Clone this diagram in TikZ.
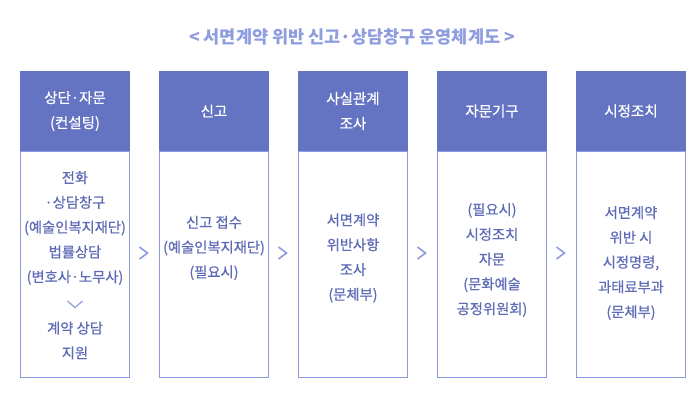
\documentclass[tikz,border=0pt]{standalone}
\usepackage{fontspec}
\setmainfont{Noto Sans CJK KR}
\newfontfamily\medfont[FakeBold=0.6]{Noto Sans CJK KR}
\definecolor{headblue}{HTML}{6474C2}
\definecolor{lineblue}{HTML}{8C9ADF}
\definecolor{textblue}{HTML}{5E6BB6}
\definecolor{titleblue}{HTML}{8E9CE0}
\tikzset{
	head/.style={fill=headblue, draw=none, minimum width=110pt, minimum height=80pt, text=white, align=center, font=\medfont\fontsize{14.5}{25}\selectfont},
	body/.style={draw=lineblue, line width=1pt, fill=white, minimum width=109pt, minimum height=226pt},
	bodytext/.style={text=textblue, align=center, font=\medfont\fontsize{14.3}{24.8}\selectfont},
	chev/.style={draw=titleblue, line width=1.6pt}
}
\begin{document}
\begin{tikzpicture}[x=1pt, y=-1pt]
	\useasboundingbox (0,0) rectangle (700,400);
	\node[text=titleblue, font=\fontsize{17.5}{20}\selectfont\bfseries] (title) at (352,37) {< 서면계약 위반 신고·상담창구 운영체계도 >};
	% boxes
	\node[body] (b1) at (75,264) {};
	\node[body] (b2) at (214,264) {};
	\node[body] (b3) at (353,264) {};
	\node[body] (b4) at (492,264) {};
	\node[body] (b5) at (631,264) {};
	\node[head] (h1) at (75,111) {상단·자문\\(컨설팅)};
	\node[head] (h2) at (214,111) {신고};
	\node[head] (h3) at (353,111) {사실관계\\조사};
	\node[head] (h4) at (492,111) {자문기구};
	\node[head] (h5) at (631,111) {시정조치};
	% texts
	\node[bodytext] (t1) at (75,228) {전화\\·상담창구\\(예술인복지재단)\\법률상담\\(변호사·노무사)};
	\node[bodytext] (t1b) at (75,340.5) {계약 상담\\지원};
	\node[bodytext] (t2) at (214,248) {신고 접수\\(예술인복지재단)\\(필요시)};
	\node[bodytext] (t3) at (353,258) {서면계약\\위반사항\\조사\\(문체부)};
	\node[bodytext] (t4) at (492,260) {(필요시)\\시정조치\\자문\\(문화예술\\공정위원회)};
	\node[bodytext] (t5) at (631,263) {서면계약\\위반 시\\시정명령,\\과태료부과\\(문체부)};
	% arrows
	\draw[chev, line width=1.2pt] (67.5,301) -- (75,307.5) -- (82.5,301);
	\foreach \x in {143.5,282.5,421.5,560.5}
		\draw[chev] (\x-4,247) -- (\x+4,253) -- (\x-4,259);
\end{tikzpicture}
\end{document}
